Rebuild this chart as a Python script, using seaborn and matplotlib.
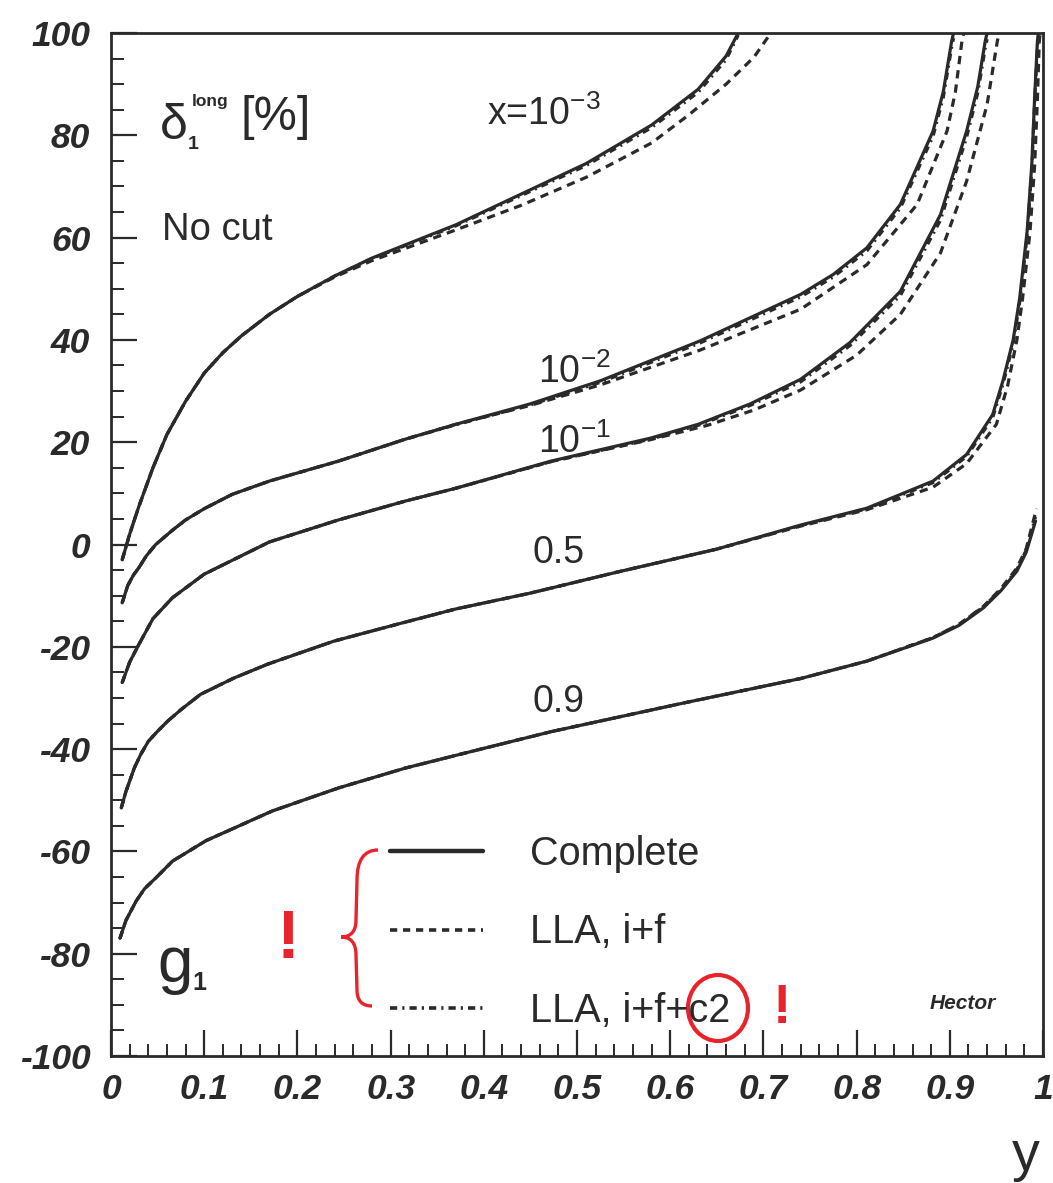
import matplotlib
matplotlib.use("Agg")
import matplotlib.pyplot as plt
import seaborn as sns
import pandas as pd
from matplotlib.lines import Line2D
from matplotlib.path import Path
from matplotlib.patches import PathPatch, Ellipse

# ------------------------------------------------------------------ data
model_names = ["Complete", "LLA, i+f", "LLA, i+f+c2"]
curve_names = ["1e-3", "1e-2", "1e-1", "0.5", "0.9"]
curve_labels = [r"x=10$^{-3}$", r"10$^{-2}$", r"10$^{-1}$", "0.5", "0.9"]

xticks = [0, 0.1, 0.2, 0.3, 0.4, 0.5, 0.6, 0.7, 0.8, 0.9, 1.0]
xtick_labels = ["0", "0.1", "0.2", "0.3", "0.4", "0.5", "0.6", "0.7", "0.8", "0.9", "1"]
yticks = [-100, -80, -60, -40, -20, 0, 20, 40, 60, 80, 100]
ytick_labels = ["-100", "-80", "-60", "-40", "-20", "0", "20", "40", "60", "80", "100"]

# x = 1e-3
a_y = [0.012, 0.02, 0.03, 0.045, 0.06, 0.08, 0.10, 0.12, 0.14, 0.17, 0.20, 0.24, 0.28, 0.37, 0.44, 0.51, 0.58, 0.63, 0.66, 0.673]
a_complete = [-3.0, 2.0, 7.5, 15.0, 21.5, 28.0, 33.5, 37.5, 40.8, 45.0, 48.5, 52.5, 56.0, 62.5, 68.5, 74.5, 82.0, 89.0, 95.5, 100.0]
a_c2 = [-3.0, 2.0, 7.5, 15.0, 21.5, 28.0, 33.5, 37.5, 40.8, 45.0, 48.5, 52.5, 55.9, 62.3, 68.2, 74.1, 81.5, 88.4, 94.8, 99.6]
a_lla_y = [0.012, 0.02, 0.03, 0.045, 0.06, 0.08, 0.10, 0.12, 0.14, 0.17, 0.20, 0.24, 0.28, 0.37, 0.44, 0.51, 0.58, 0.62, 0.66, 0.69, 0.708]
a_lla = [-3.0, 2.0, 7.5, 15.0, 21.5, 28.0, 33.5, 37.5, 40.8, 45.0, 48.5, 52.3, 55.5, 61.5, 66.3, 71.8, 78.5, 84.0, 90.0, 95.3, 100.0]

# x = 1e-2
b_y = [0.012, 0.018, 0.024, 0.03, 0.038, 0.048, 0.066, 0.08, 0.10, 0.13, 0.17, 0.244, 0.316, 0.37, 0.45, 0.525, 0.632, 0.74, 0.775, 0.811, 0.847, 0.882, 0.893, 0.902, 0.904]
b_complete = [-11.4, -8.0, -6.0, -4.5, -2.2, 0.0, 2.8, 4.8, 7.0, 9.8, 12.4, 16.3, 20.6, 23.5, 27.5, 32.0, 39.8, 48.9, 52.8, 58.0, 66.5, 80.8, 88.5, 98.4, 100.0]
b_c2 = [-11.4, -8.0, -6.0, -4.5, -2.2, 0.0, 2.8, 4.8, 7.0, 9.8, 12.4, 16.3, 20.6, 23.4, 27.3, 31.7, 39.4, 48.4, 52.3, 57.4, 65.8, 79.8, 87.4, 97.2, 99.0]
b_lla_y = [0.012, 0.018, 0.024, 0.03, 0.038, 0.048, 0.066, 0.08, 0.10, 0.13, 0.17, 0.244, 0.316, 0.37, 0.45, 0.525, 0.632, 0.74, 0.811, 0.865, 0.897, 0.906, 0.913, 0.915]
b_lla = [-11.4, -8.0, -6.0, -4.5, -2.2, 0.0, 2.8, 4.8, 7.0, 9.8, 12.4, 16.3, 20.6, 23.5, 27.2, 31.2, 38.0, 46.0, 54.7, 66.5, 80.8, 88.5, 98.4, 100.0]

# x = 1e-1
c_y = [0.012, 0.02, 0.03, 0.045, 0.066, 0.10, 0.17, 0.244, 0.316, 0.37, 0.472, 0.579, 0.63, 0.686, 0.74, 0.793, 0.847, 0.89, 0.918, 0.93, 0.938, 0.940]
c_complete = [-27.0, -23.0, -19.5, -14.5, -10.4, -5.8, 0.5, 4.8, 8.5, 11.0, 16.3, 20.8, 23.5, 27.5, 32.3, 39.5, 49.5, 64.5, 80.8, 89.5, 98.4, 100.0]
c_c2 = [-27.0, -23.0, -19.5, -14.5, -10.4, -5.8, 0.5, 4.8, 8.5, 11.0, 16.2, 20.6, 23.3, 27.2, 31.8, 38.9, 48.7, 63.4, 79.6, 88.3, 97.0, 98.8]
c_lla_y = [0.012, 0.02, 0.03, 0.045, 0.066, 0.10, 0.17, 0.244, 0.316, 0.37, 0.472, 0.579, 0.64, 0.69, 0.74, 0.80, 0.847, 0.89, 0.918, 0.94, 0.951, 0.953]
c_lla = [-27.0, -23.0, -19.5, -14.5, -10.4, -5.8, 0.5, 4.8, 8.5, 11.0, 16.2, 20.5, 23.3, 26.3, 30.2, 37.0, 45.0, 57.0, 71.0, 86.0, 98.4, 100.0]

# x = 0.5
d_y = [0.011, 0.016, 0.025, 0.032, 0.04, 0.05, 0.061, 0.075, 0.096, 0.132, 0.168, 0.239, 0.311, 0.37, 0.45, 0.543, 0.65, 0.74, 0.811, 0.882, 0.918, 0.946, 0.957, 0.968, 0.975, 0.983, 0.988, 0.991, 0.994, 0.995]
d_complete = [-51.5, -48.3, -43.7, -41.0, -38.5, -36.5, -34.5, -32.3, -29.3, -26.1, -23.4, -18.9, -15.4, -12.6, -9.5, -5.4, -0.9, 3.8, 7.1, 12.4, 17.6, 25.4, 32.0, 40.0, 48.2, 61.3, 74.4, 87.3, 98.4, 100.0]
d_c2 = [-51.5, -48.3, -43.7, -41.0, -38.5, -36.5, -34.5, -32.3, -29.3, -26.1, -23.4, -18.9, -15.4, -12.6, -9.5, -5.4, -0.9, 3.7, 7.0, 12.1, 17.2, 24.8, 31.3, 39.2, 47.4, 60.4, 73.5, 86.4, 97.5, 99.3]
d_lla_y = [0.011, 0.016, 0.025, 0.032, 0.04, 0.05, 0.061, 0.075, 0.096, 0.132, 0.168, 0.239, 0.311, 0.37, 0.45, 0.543, 0.65, 0.74, 0.811, 0.882, 0.918, 0.95, 0.962, 0.972, 0.978, 0.986, 0.991, 0.994, 0.996, 0.997]
d_lla = [-51.5, -48.3, -43.7, -41.0, -38.5, -36.5, -34.5, -32.3, -29.3, -26.1, -23.4, -18.9, -15.4, -12.6, -9.5, -5.4, -0.9, 3.6, 6.8, 11.2, 15.8, 23.5, 31.0, 40.0, 48.0, 61.0, 74.0, 87.0, 98.4, 100.0]

# x = 0.9
e_y = [0.0096, 0.016, 0.027, 0.036, 0.048, 0.066, 0.102, 0.173, 0.244, 0.316, 0.388, 0.472, 0.614, 0.74, 0.811, 0.882, 0.91, 0.936, 0.955, 0.972, 0.982, 0.992]
e_complete = [-77.0, -73.5, -69.7, -67.3, -65.2, -61.9, -57.9, -52.1, -47.6, -43.7, -40.4, -36.6, -31.0, -26.2, -22.8, -18.3, -15.8, -12.4, -9.0, -5.2, -1.5, 4.6]
e_c2 = [-77.0, -73.5, -69.7, -67.3, -65.2, -61.9, -57.9, -52.1, -47.6, -43.7, -40.4, -36.6, -31.0, -26.2, -22.8, -18.2, -15.6, -12.2, -8.8, -4.9, -1.1, 5.4]
e_lla_y = [0.0096, 0.016, 0.027, 0.036, 0.048, 0.066, 0.102, 0.173, 0.244, 0.316, 0.388, 0.472, 0.614, 0.74, 0.811, 0.882, 0.91, 0.936, 0.955, 0.972, 0.982, 0.993]
e_lla = [-77.0, -73.5, -69.7, -67.3, -65.2, -61.9, -57.9, -52.1, -47.6, -43.7, -40.4, -36.6, -31.0, -26.2, -22.8, -18.2, -15.6, -12.1, -8.6, -4.6, -0.8, 7.0]

series = {
    "1e-3": [(a_y, a_complete), (a_lla_y, a_lla), (a_y, a_c2)],
    "1e-2": [(b_y, b_complete), (b_lla_y, b_lla), (b_y, b_c2)],
    "1e-1": [(c_y, c_complete), (c_lla_y, c_lla), (c_y, c_c2)],
    "0.5": [(d_y, d_complete), (d_lla_y, d_lla), (d_y, d_c2)],
    "0.9": [(e_y, e_complete), (e_lla_y, e_lla), (e_y, e_c2)],
}

rows = []
for cname in curve_names:
    for mname, (yy, dd) in zip(model_names, series[cname]):
        for a, b in zip(yy, dd):
            rows.append({"curve": cname, "model": mname, "y": a, "delta": b})
df = pd.DataFrame(rows)

# ------------------------------------------------------------------ style
sns.set_theme(style="ticks")
plt.rcParams["font.family"] = ["Liberation Sans", "DejaVu Sans"]
plt.rcParams["mathtext.fontset"] = "custom"
plt.rcParams["mathtext.rm"] = "Liberation Sans"
plt.rcParams["mathtext.it"] = "Liberation Sans:italic"
plt.rcParams["mathtext.bf"] = "Liberation Sans:bold"

INK = "#2a2a2a"
RED = "#e8232b"
W, H = 1053, 1183
L, R, T, B = 111, 1043, 33, 1056

fig = plt.figure(figsize=(W / 100, H / 100), dpi=100)
fig.patch.set_facecolor("white")
ax = fig.add_axes([L / W, 1 - B / H, (R - L) / W, (B - T) / H])
ax.set_facecolor("white")


def P(px, py):
    """pixel position -> axes fraction (for annotations only)"""
    return (px - L) / (R - L), (B - py) / (B - T)


dash_map = {"Complete": "", "LLA, i+f": (2.6, 1.9), "LLA, i+f+c2": (2.2, 1.6, 0.6, 1.6)}
order = ["LLA, i+f", "LLA, i+f+c2", "Complete"]
for mname in order:
    sub = df[df["model"] == mname]
    sns.lineplot(data=sub, x="y", y="delta", units="curve", estimator=None,
                 style="model", dashes=dash_map, color=INK, linewidth=2.3,
                 legend=False, ax=ax)

ax.set_xlim(0, 1)
ax.set_ylim(-100, 100)
ax.set_xlabel("")
ax.set_ylabel("")

# ticks
ax.set_xticks(xticks)
ax.set_xticklabels(xtick_labels)
ax.set_yticks(yticks)
ax.set_yticklabels(ytick_labels)
ax.set_xticks([i / 50 for i in range(51)], minor=True)
ax.set_yticks(list(range(-100, 101, 5)), minor=True)
ax.tick_params(which="major", direction="in", length=19, width=1.6, color=INK,
               top=False, right=False)
ax.tick_params(which="minor", direction="in", length=9, width=1.4, color=INK,
               top=False, right=False)
ax.tick_params(axis="y", which="major", pad=15, labelsize=25.5, labelcolor=INK)
ax.tick_params(axis="x", which="major", pad=12, labelsize=25.5, labelcolor=INK)
for lbl in ax.get_xticklabels() + ax.get_yticklabels():
    lbl.set_fontweight("bold")
    lbl.set_fontstyle("italic")
for s in ax.spines.values():
    s.set_linewidth(2.0)
    s.set_color(INK)

# ------------------------------------------------------------------ texts
tk = dict(transform=ax.transAxes, color=INK, va="baseline", ha="left")
ax.text(*P(160, 139), "δ", fontsize=36, **tk)
ax.text(*P(188, 149), "1", fontsize=14, fontweight="bold", **tk)
ax.text(*P(192, 106), "long", fontsize=12.5, fontweight="bold", **tk)
ax.text(*P(241, 130), "[%]", fontsize=35, **tk)
ax.text(*P(162, 240), "No cut", fontsize=27.5, **tk)

label_pos = [(487, 125), (538, 383), (538, 453), (533, 563), (532, 712)]
for txt, (px, py) in zip(curve_labels, label_pos):
    ax.text(*P(px, py), txt, fontsize=27, **tk)

ax.text(*P(157, 982), "g", fontsize=46, **tk)
ax.text(*P(192, 990), "1", fontsize=18, fontweight="bold", **tk)
ax.text(*P(930, 1009), "Hector", fontsize=15, fontweight="bold", fontstyle="italic", **tk)
fig.text(1026 / W, 1 - 1170 / H, "y", fontsize=40, color=INK, ha="center", va="baseline")

# legend
handles = [Line2D([], [], color=INK, lw=3.2),
           Line2D([], [], color=INK, lw=2.6, dashes=(2.0, 1.6)),
           Line2D([], [], color=INK, lw=2.6, dashes=(2.0, 1.4, 0.6, 1.4))]
leg = ax.legend(handles, model_names, loc="upper left", bbox_to_anchor=P(390, 835),
                frameon=False, fontsize=28.5, handlelength=2.35, handletextpad=1.19,
                labelspacing=1.02, borderpad=0, borderaxespad=0)
for t in leg.get_texts():
    t.set_color(INK)

# ------------------------------------------------------------------ red annotations
ax.text(*P(288, 940), "!", fontsize=50, fontweight="bold", color=RED,
        transform=ax.transAxes, ha="center", va="center")
ax.text(*P(782, 1009), "!", fontsize=40, fontweight="bold", color=RED,
        transform=ax.transAxes, ha="center", va="center")
brace_px = [(378, 850), (357, 850), (357, 880), (356, 920), (356, 937), (341, 937),
            (356, 937), (356, 955), (357, 990), (357, 1006), (372, 1006)]
codes = [Path.MOVETO, Path.CURVE3, Path.CURVE3, Path.LINETO, Path.CURVE3, Path.CURVE3,
         Path.CURVE3, Path.CURVE3, Path.LINETO, Path.CURVE3, Path.CURVE3]
brace = Path([P(*p) for p in brace_px], codes)
ax.add_patch(PathPatch(brace, facecolor="none", edgecolor=RED, lw=2.4,
                       transform=ax.transAxes, clip_on=False))
ax.add_patch(Ellipse(P(718, 1008), width=60 / (R - L), height=66 / (B - T),
                     facecolor="none", edgecolor=RED, lw=3.0, transform=ax.transAxes,
                     clip_on=False))

fig.savefig("out.png", dpi=100, facecolor="white")
